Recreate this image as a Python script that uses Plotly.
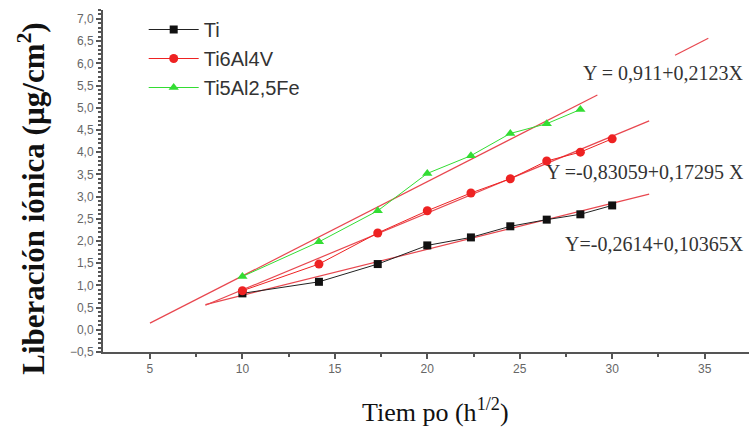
import plotly.graph_objects as go

# Data (x = sqrt(h))
tiempo = [10, 14.14, 17.32, 20, 22.36, 24.49, 26.46, 28.28, 30]
ti = [0.82, 1.08, 1.48, 1.90, 2.08, 2.33, 2.48, 2.60, 2.80]
ti6al4v = [0.88, 1.48, 2.18, 2.68, 3.08, 3.40, 3.80, 4.00, 4.30]
tiempo_fe = [10, 14.14, 17.32, 20, 22.36, 24.49, 26.46, 28.28]
ti5al25fe = [1.20, 1.98, 2.68, 3.52, 3.92, 4.42, 4.64, 4.96]

# Linear fits (intercept, slope) and drawn x-extent segments
fit_ti = (-0.2614, 0.10365)
fit_ti6 = (-0.83059, 0.17295)
fit_fe = (-0.911, 0.2123)
fit_ti_x = [[8, 32]]
fit_ti6_x = [[8, 32]]
fit_fe_x = [[5, 29.2], [33.4, 35.2]]

labels_fit = ["Y = 0,911+0,2123X", "Y =-0,83059+0,17295 X", "Y=-0,2614+0,10365X"]
label_pos = [(37.25, 5.78), (37.25, 3.55), (37.25, 1.93)]

x_title = "Tiem po (h<sup>1/2</sup>)"
y_title = "<b>Liberación iónica (µg/cm<sup>2</sup>)</b>"

fig = go.Figure()

fit_color = "#e8474f"
def add_fit(coef, segs):
    xs, ys = [], []
    for a, b in segs:
        xs += [a, b, None]
        ys += [coef[0] + coef[1] * a, coef[0] + coef[1] * b, None]
    fig.add_trace(go.Scatter(x=xs, y=ys, mode="lines", showlegend=False,
                             line=dict(color=fit_color, width=1.2), hoverinfo="skip"))

add_fit(fit_fe, fit_fe_x)
add_fit(fit_ti6, fit_ti6_x)
add_fit(fit_ti, fit_ti_x)

fig.add_trace(go.Scatter(x=tiempo, y=ti, mode="lines+markers", name="Ti",
                         line=dict(color="#222222", width=1),
                         marker=dict(symbol="square", size=8, color="#111111")))
fig.add_trace(go.Scatter(x=tiempo, y=ti6al4v, mode="lines+markers", name="Ti6Al4V",
                         line=dict(color="#ee2222", width=1),
                         marker=dict(symbol="circle", size=9, color="#ee2222")))
fig.add_trace(go.Scatter(x=tiempo_fe, y=ti5al25fe, mode="lines+markers", name="Ti5Al2,5Fe",
                         line=dict(color="#33dd33", width=1),
                         marker=dict(symbol="triangle-up", size=9, color="#33dd33")))

for txt, (x, y) in zip(labels_fit, label_pos):
    fig.add_annotation(x=x, y=y, text=txt, showarrow=False, xanchor="right",
                       font=dict(family="Liberation Serif", size=20, color="#333333"))

fig.add_annotation(xref="paper", yref="paper", x=0.514, y=-0.17, text=x_title,
                   showarrow=False, xanchor="center", yanchor="middle",
                   font=dict(family="Liberation Serif", size=26, color="#111111"))
fig.add_annotation(xref="paper", yref="paper", x=-0.112, y=0.447, text=y_title,
                   showarrow=False, textangle=-90, xanchor="center", yanchor="middle",
                   font=dict(family="Liberation Serif", size=31, color="#111111"))

fig.update_layout(
    width=749, height=448,
    margin=dict(l=103, r=0, t=10, b=96),
    paper_bgcolor="white", plot_bgcolor="white",
    separators=",.",
    showlegend=True,
    legend=dict(x=0.063, y=1.0, xanchor="left", yanchor="top",
                font=dict(family="Liberation Sans", size=20, color="#333333"),
                bgcolor="rgba(0,0,0,0)", tracegroupgap=0, itemwidth=50),
    xaxis=dict(range=[2.46, 37.4], tickvals=[5, 10, 15, 20, 25, 30, 35],
               ticks="outside", ticklen=5, tickcolor="#555555", tickwidth=1.5,
               showline=True, linecolor="#555555", linewidth=2,
               showgrid=False, zeroline=False,
               minor=dict(tickvals=[7.5, 12.5, 17.5, 22.5, 27.5, 32.5], ticks="outside",
                          ticklen=3, tickcolor="#555555"),
               tickfont=dict(family="Liberation Sans", size=12, color="#666666")),
    yaxis=dict(range=[-0.5, 7.2], tickvals=[-0.5, 0, 0.5, 1, 1.5, 2, 2.5, 3, 3.5, 4, 4.5, 5, 5.5, 6, 6.5, 7],
               tickformat=".1f",
               ticks="outside", ticklen=5, tickcolor="#555555", tickwidth=1.5,
               showline=True, linecolor="#555555", linewidth=2,
               showgrid=False, zeroline=False,
               minor=dict(dtick=0.1, ticks="outside", ticklen=3, tickcolor="#555555"),
               tickfont=dict(family="Liberation Sans", size=12, color="#666666")),
)

fig.write_html("out.html")
